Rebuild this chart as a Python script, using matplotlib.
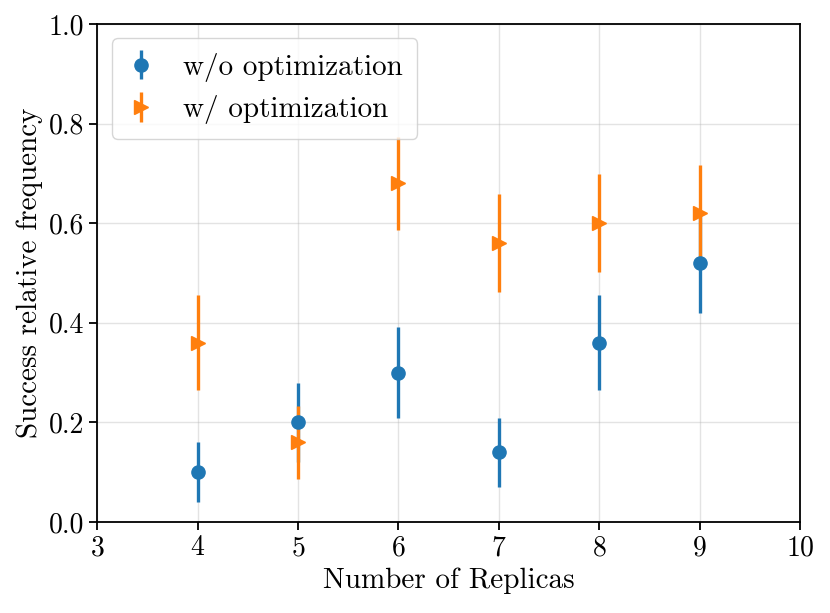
import matplotlib
matplotlib.use("Agg")
import matplotlib.pyplot as plt

plt.rcParams['font.family'] = ['cmr10', 'DejaVu Serif']
plt.rcParams['mathtext.fontset'] = 'cm'
plt.rcParams['axes.formatter.use_mathtext'] = True

replicas = [4, 5, 6, 7, 8, 9]
wo_opt = [0.10, 0.20, 0.30, 0.14, 0.36, 0.52]
wo_err = [0.060, 0.080, 0.092, 0.069, 0.096, 0.100]
w_opt = [0.36, 0.16, 0.68, 0.56, 0.60, 0.62]
w_err = [0.096, 0.073, 0.093, 0.099, 0.098, 0.097]

fig = plt.figure(figsize=(8.3, 6.13), dpi=100)
ax = fig.add_axes([0.117, 0.1485, 0.847, 0.8125])

ax.errorbar(replicas, wo_opt, yerr=wo_err, fmt='o', color='#1f77b4',
            markersize=9.5, elinewidth=2.4, label='w/o optimization')
ax.errorbar(replicas, w_opt, yerr=w_err, fmt='>', color='#ff7f0e',
            markersize=9.5, elinewidth=2.4, label='w/ optimization')

ax.set_xlim(3, 10)
ax.set_ylim(0, 1)
ax.set_xticks([3, 4, 5, 6, 7, 8, 9, 10])
ax.set_yticks([0.0, 0.2, 0.4, 0.6, 0.8, 1.0])
ax.set_yticklabels(['0.0', '0.2', '0.4', '0.6', '0.8', '1.0'])
ax.grid(True, color='#b0b0b0', alpha=0.35, linewidth=1)
ax.tick_params(labelsize=20, width=1.3, length=6)
for s in ax.spines.values():
    s.set_linewidth(1.3)
ax.set_xlabel('Number of Replicas', fontsize=21)
ax.set_ylabel('Success relative frequency', fontsize=21)
ax.legend(loc='upper left', fontsize=21, borderpad=0.5, handlelength=1.0,
          handletextpad=0.95, labelspacing=0.45)

fig.savefig('out.png', dpi=100)
